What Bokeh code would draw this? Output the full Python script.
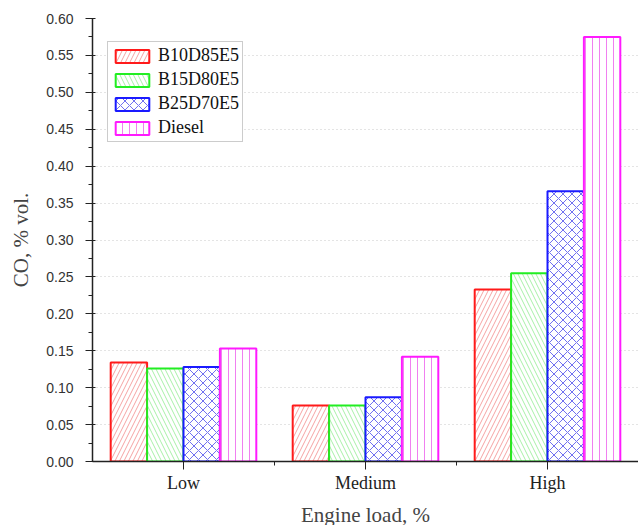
from bokeh.plotting import figure
from bokeh.models import Range1d, FixedTicker, Legend, LegendItem, ColumnDataSource, PrintfTickFormatter
from bokeh.embed import file_html
from bokeh.resources import INLINE

categories = ["Low", "Medium", "High"]
series = ["B10D85E5", "B15D80E5", "B25D70E5", "Diesel"]
b10 = [0.134, 0.076, 0.233]
b15 = [0.126, 0.076, 0.255]
b25 = [0.128, 0.087, 0.366]
diesel = [0.153, 0.142, 0.575]
y_ticks = [0.0, 0.05, 0.10, 0.15, 0.20, 0.25, 0.30, 0.35, 0.40, 0.45, 0.50, 0.55, 0.60]

values = [b10, b15, b25, diesel]
line_colors = ["#ff1a1a", "#22ee22", "#1a1aff", "#ff1aff"]
hatch_colors = ["#f5a3a3", "#a8f0a8", "#7070f0", "#f080f0"]
hatch_patterns = ["/", "\\", "x", "|"]
hatch_scales = [9, 9, 9, 7]

p = figure(frame_width=546, frame_height=443, output_backend="svg", toolbar_location=None,
           x_range=Range1d(0, 3), y_range=Range1d(0, 0.6),
           min_border_left=92, min_border_right=0, min_border_top=18, min_border_bottom=10)
p.outline_line_color = None
p.background_fill_color = "white"
p.border_fill_color = "white"

bar_w = 0.2
offsets = [-0.3, -0.1, 0.1, 0.3]
renderers = []
for s, v, lc, hc, hp, hs, off in zip(series, values, line_colors, hatch_colors, hatch_patterns, hatch_scales, offsets):
    xs = [i + 0.5 + off for i in range(len(categories))]
    src = ColumnDataSource(dict(x=xs, top=v))
    r = p.vbar(x="x", top="top", width=bar_w, bottom=0, source=src,
               fill_color="white", line_color=lc, line_width=2,
               hatch_pattern=hp, hatch_color=hc, hatch_scale=hs, hatch_weight=1)
    renderers.append((s, r))

xa = p.xaxis[0]
xa.ticker = FixedTicker(ticks=[i + 0.5 for i in range(len(categories))], minor_ticks=[1, 2])
xa.major_label_overrides = {i + 0.5: c for i, c in enumerate(categories)}
xa.axis_label = "Engine load, %"
xa.axis_label_text_font = "Liberation Serif"
xa.axis_label_text_font_style = "normal"
xa.axis_label_text_font_size = "21px"
xa.axis_label_standoff = 7
xa.major_label_text_font = "Liberation Serif"
xa.major_label_text_font_size = "18px"
xa.major_label_text_color = "#222222"
xa.major_label_standoff = 3
xa.axis_line_color = "#222222"
xa.axis_line_width = 1.5
xa.major_tick_in = 0
xa.major_tick_out = 8
xa.minor_tick_in = 0
xa.minor_tick_out = 4
xa.major_tick_line_color = "#222222"
xa.minor_tick_line_color = "#222222"

ya = p.yaxis[0]
ya.ticker = FixedTicker(ticks=y_ticks, minor_ticks=[t + 0.025 for t in y_ticks[:-1]])
ya.formatter = PrintfTickFormatter(format="%.2f")
ya.axis_label = "CO, % vol."
ya.axis_label_text_font = "Liberation Serif"
ya.axis_label_text_font_style = "normal"
ya.axis_label_text_font_size = "21px"
ya.axis_label_standoff = 10
ya.major_label_text_font = "Liberation Sans"
ya.major_label_text_font_size = "14px"
ya.major_label_text_color = "#333333"
ya.major_label_standoff = 12
ya.axis_line_color = "#222222"
ya.axis_line_width = 1.5
ya.major_tick_in = 3
ya.major_tick_out = 7
ya.minor_tick_in = 0
ya.minor_tick_out = 4
ya.major_tick_line_color = "#222222"
ya.minor_tick_line_color = "#222222"

p.xgrid.grid_line_color = None
p.ygrid.grid_line_color = "#c8c8c8"
p.ygrid.grid_line_dash = "1 3"
p.ygrid.grid_line_width = 1

legend = Legend(items=[LegendItem(label=s, renderers=[r]) for s, r in renderers],
                location=(15, 319))
legend.margin = 0
legend.padding = 3
legend.spacing = 3
legend.glyph_width = 42
legend.glyph_height = 16
legend.label_height = 16
legend.label_standoff = 5
legend.label_text_font = "Liberation Serif"
legend.label_text_font_size = "18px"
legend.label_text_color = "#111111"
legend.border_line_color = "#999999"
legend.border_line_width = 1
legend.background_fill_alpha = 1
p.add_layout(legend, "center")

open("out.html", "w").write(file_html(p, INLINE))
